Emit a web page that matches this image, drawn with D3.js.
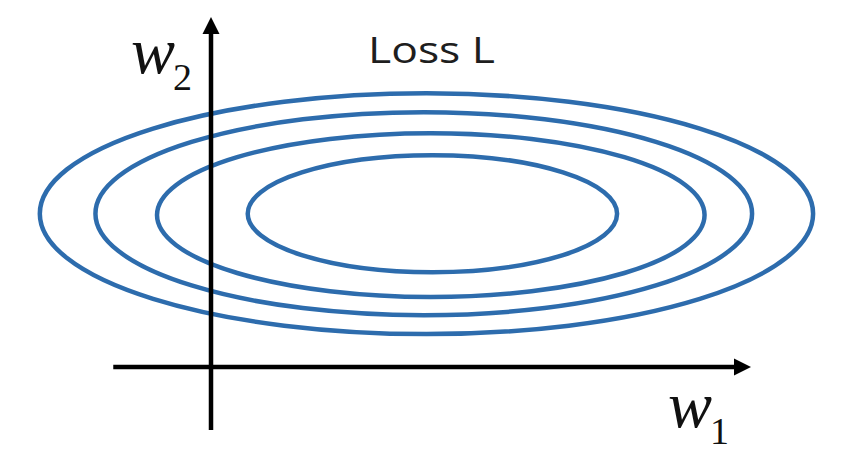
<!DOCTYPE html>
<html>
<head>
<meta charset="utf-8">
<script src="https://cdn.jsdelivr.net/npm/d3@7"></script>
<style>
  html, body { margin: 0; padding: 0; background: #ffffff; }
  svg { display: block; }
</style>
</head>
<body>
<div id="chart"></div>
<script>
// ---- data (abstract w1/w2 units) ----
const contourNames = ["c4", "c3", "c2", "c1"];
const contourCx = [3.99, 3.94, 4.07, 4.10];
const contourCy = [2.19, 2.19, 2.17, 2.19];
const contourRx = [7.16, 6.08, 5.07, 3.42];
const contourRy = [1.72, 1.45, 1.17, 0.836];
const xAxisExtent = [-1.81, 10];
const yAxisExtent = [-0.9, 5];
const titleText = "Loss L";
const xLabel = ["w", "1"];
const yLabel = ["w", "2"];

const W = 852, H = 460;
const x = d3.scaleLinear().domain([0, 10]).range([211, 751]);
const y = d3.scaleLinear().domain([0, 5]).range([367, 17]);

const svg = d3.select("#chart").append("svg")
  .attr("width", W).attr("height", H)
  .style("background", "#fff");

const contours = contourNames.map((n, i) => ({
  name: n, cx: contourCx[i], cy: contourCy[i], rx: contourRx[i], ry: contourRy[i]
}));

svg.append("g").selectAll("ellipse").data(contours).join("ellipse")
  .attr("cx", d => x(d.cx))
  .attr("cy", d => y(d.cy))
  .attr("rx", d => x(d.cx + d.rx) - x(d.cx))
  .attr("ry", d => y(d.cy - d.ry) - y(d.cy))
  .attr("fill", "none")
  .attr("stroke", "#2d6cad")
  .attr("stroke-width", 4.5);

// axes
const axisColor = "#000";
const axisW = 4.5;
const ah = 17, aw = 8.5; // arrowhead length, half-width

// horizontal axis
svg.append("line")
  .attr("x1", x(xAxisExtent[0])).attr("x2", x(xAxisExtent[1]) - ah + 2)
  .attr("y1", y(0)).attr("y2", y(0))
  .attr("stroke", axisColor).attr("stroke-width", axisW);
svg.append("path")
  .attr("d", `M${x(xAxisExtent[1])},${y(0)} L${x(xAxisExtent[1]) - ah},${y(0) - aw} L${x(xAxisExtent[1]) - ah},${y(0) + aw} Z`)
  .attr("fill", axisColor);

// vertical axis
svg.append("line")
  .attr("x1", x(0)).attr("x2", x(0))
  .attr("y1", y(yAxisExtent[0])).attr("y2", y(yAxisExtent[1]) + ah - 2)
  .attr("stroke", axisColor).attr("stroke-width", axisW);
svg.append("path")
  .attr("d", `M${x(0)},${y(yAxisExtent[1])} L${x(0) - aw},${y(yAxisExtent[1]) + ah} L${x(0) + aw},${y(yAxisExtent[1]) + ah} Z`)
  .attr("fill", axisColor);

// title
svg.append("text")
  .attr("x", 368).attr("y", 63)
  .attr("font-family", "'Open Sans', Lato, sans-serif")
  .attr("font-size", 36)
  .attr("fill", "#1e1e1e")
  .attr("textLength", 127)
  .attr("lengthAdjust", "spacingAndGlyphs")
  .text(titleText);

// axis labels
function mathLabel(px, py, lab, subdx, subdy) {
  const t = svg.append("text")
    .attr("x", px).attr("y", py)
    .attr("font-family", "'Liberation Serif', 'DejaVu Serif', serif")
    .attr("fill", "#111");
  t.append("tspan").attr("font-style", "italic").attr("font-size", 66).text(lab[0]);
  t.append("tspan").attr("font-size", 38).attr("dx", subdx).attr("dy", subdy).text(lab[1]);
}
mathLabel(131, 73, yLabel, -2, 17);
mathLabel(668, 427, xLabel, -2, 17);
</script>
</body>
</html>
